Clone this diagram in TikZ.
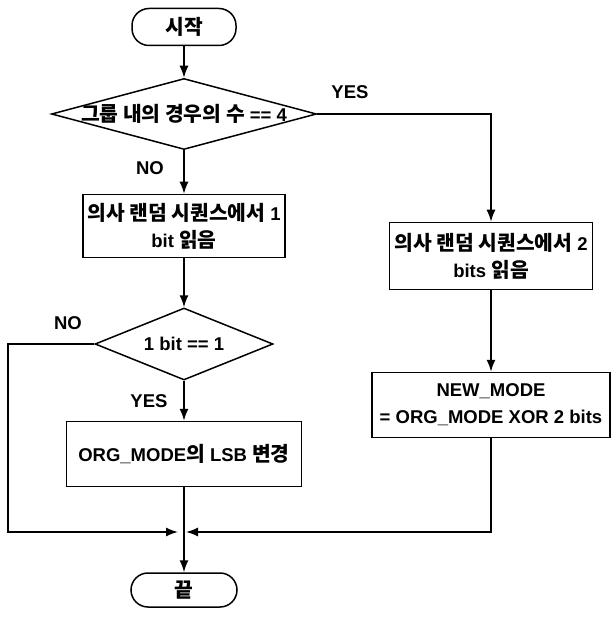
\documentclass[tikz,border=0pt]{standalone}
\usepackage{fontspec}
\setmainfont{Liberation Sans}
\newfontfamily\kr{Noto Sans CJK KR}[Scale=1.1]
\usetikzlibrary{shapes.geometric,arrows.meta}

\begin{document}
\begin{tikzpicture}[x = 1pt, y = -1pt, line width = 1.5pt,
				>={Latex[length=12pt,width=9pt]},
				every node/.style = {font = \bfseries\fontsize{18.5}{27}\selectfont},
				term/.style = {draw, rounded corners = 17pt},
				proc/.style = {draw, align = center, inner sep = 0pt},
				decision/.style = {draw, diamond, inner sep = 0pt},
				tag/.style = {font = \bfseries\fontsize{18.5}{18.5}\selectfont}]

				\useasboundingbox (0,0) rectangle (611,617);

				\node [term, minimum width = 104pt, minimum height = 37pt] (start) at (184,27) {\kr 시작};
				\node [decision, minimum width = 265pt, minimum height = 71pt] (d_1) at (184,114)
				{\makebox[0pt]{{\kr 그룹 내의 경우의 수} == 4}};
				\node [proc, minimum width = 202pt, minimum height = 63pt] (b_1) at (184,226)
				{{\kr 의사 랜덤 시퀀스에서} 1\\bit {\kr 읽음}};
				\node [decision, minimum width = 178pt, minimum height = 72pt] (d_2) at (184,344)
				{\makebox[0pt]{1 bit == 1}};
				\node [proc, minimum width = 235pt, minimum height = 65pt] (b_3) at (184,454)
				{ORG\_MODE{\kr 의} LSB {\kr 변경}};
				\node [term, minimum width = 106pt, minimum height = 34pt] (end) at (184,590) {\kr 끝};

				\node [proc, minimum width = 203pt, minimum height = 67pt] (b_2) at (491,256)
				{{\kr 의사 랜덤 시퀀스에서} 2\\bits {\kr 읽음}};
				\node [proc, minimum width = 238pt, minimum height = 65pt] (b_4) at (491,405)
				{NEW\_MODE\\= ORG\_MODE XOR 2 bits};

				\coordinate (m) at (184,532);
				\coordinate (c_1) at (8,344);
				\coordinate (c_2) at (8,532);
				\coordinate (c_3) at (491,114);
				\coordinate (c_4) at (491,532);

				\draw [->] (start) -- (d_1);
				\draw [->] (d_1) -- (b_1);
				\draw [->] (b_1) -- (d_2);
				\draw [->] (d_2) -- (b_3);
				\draw [->] (b_3) -- (end);
				\draw [->] (d_2.west) -- (c_1) -- (c_2) -- ([xshift=-6pt]m);
				\draw [->] (d_1.east) -- (c_3) -- (b_2);
				\draw [->] (b_2) -- (b_4);
				\draw [->] (b_4) -- (c_4) -- ([xshift=2pt]m);

				\node [tag] (yes_1) at (350,92) {YES};
				\node [tag] (no_1) at (150,168) {NO};
				\node [tag] (no_2) at (68,323) {NO};
				\node [tag] (yes_2) at (149,401) {YES};
\end{tikzpicture}
\end{document}
